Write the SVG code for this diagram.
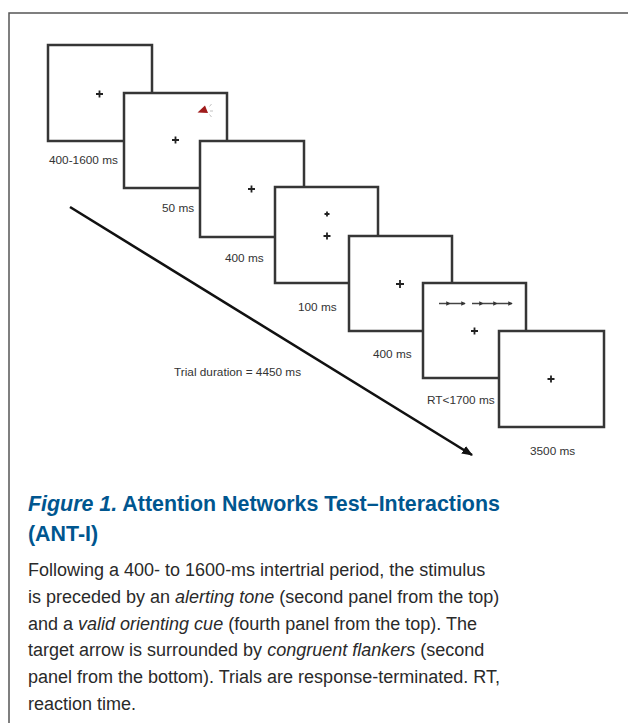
<svg xmlns="http://www.w3.org/2000/svg" width="628" height="723" viewBox="0 0 628 723">
<defs>
<style>
.frame{fill:none;stroke:#555;stroke-width:1.5}
.panel{fill:#fff;stroke:#363636;stroke-width:2.5}
.fix{stroke:#222;stroke-width:1.8;fill:none}
.lbl{font-family:"Liberation Sans",Arial,sans-serif;font-size:11.8px;fill:#333}
.title{font-family:"Liberation Sans",Arial,sans-serif;font-size:21.4px;font-weight:bold;fill:#00568f}
.body{font-family:"Liberation Sans",Arial,sans-serif;font-size:18px;fill:#2a2a2a}
.flk{stroke:#444;stroke-width:1.5;fill:none}
</style>
<marker id="head" viewBox="0 0 10 8" refX="9" refY="4" markerWidth="11" markerHeight="9" markerUnits="userSpaceOnUse" orient="auto">
<path d="M0,0 L10,4 L0,8 z" fill="#111"/>
</marker>
<marker id="fh" viewBox="0 0 6 6" refX="5" refY="3" markerWidth="4.5" markerHeight="4.5" markerUnits="userSpaceOnUse" orient="auto">
<path d="M0,0 L6,3 L0,6 z" fill="#333"/>
</marker>
</defs>
<rect width="628" height="723" fill="#fff"/>
<path class="frame" d="M9,723 L9,13 L628,13"/>

<g id="panel1">
<rect class="panel" x="48" y="45" width="104" height="96"/>
<path class="fix" d="M96,94 h7 M99.5,90.5 v7"/>
<text class="lbl" x="49" y="164">400-1600 ms</text>
</g>
<g id="panel2">
<rect class="panel" x="124" y="93" width="103" height="95"/>
<path class="fix" d="M172,140 h7 M175.5,136.5 v7"/>
<path d="M197.5,112.5 L205,105.5 L208,113 Z" fill="#a01c1c"/>
<path d="M209.5,106.5 l2,-2.5 M210,111 h3 M209.5,114.5 l2,2.5" stroke="#bbb" stroke-width="0.9" fill="none"/>
<text class="lbl" x="162" y="212">50 ms</text>
</g>
<g id="panel3">
<rect class="panel" x="200" y="141" width="104" height="96"/>
<path class="fix" d="M248,189 h7 M251.5,185.5 v7"/>
<text class="lbl" x="225" y="262">400 ms</text>
</g>
<g id="panel4">
<rect class="panel" x="275" y="187" width="103" height="96"/>
<path class="fix" d="M324.5,214 h5 M327,211.5 v5"/>
<path class="fix" d="M323.5,236 h7 M327,232.5 v7"/>
<text class="lbl" x="298" y="311">100 ms</text>
</g>
<g id="panel5">
<rect class="panel" x="349" y="236" width="103" height="95"/>
<path class="fix" d="M396,284 h8 M400,280 v8" stroke-width="2.2"/>
<text class="lbl" x="373" y="358">400 ms</text>
</g>
<g id="panel6">
<rect class="panel" x="423" y="283" width="103" height="95"/>
<g class="flk">
<path d="M439,303.5 H450" marker-end="url(#fh)"/>
<path d="M450,303.5 H465" marker-end="url(#fh)"/>
<path d="M472,303.5 H483" marker-end="url(#fh)"/>
<path d="M483,303.5 H497" marker-end="url(#fh)"/>
<path d="M497,303.5 H512" marker-end="url(#fh)"/>
</g>
<path class="fix" d="M471,331 h7 M474.5,327.5 v7"/>
<text class="lbl" x="427" y="404">RT&lt;1700 ms</text>
</g>
<g id="panel7">
<rect class="panel" x="499" y="331" width="105" height="96"/>
<path class="fix" d="M547.5,379 h7 M551,375.5 v7"/>
<text class="lbl" x="530" y="455">3500 ms</text>
</g>

<g id="connectors">
<line x1="70" y1="207" x2="472" y2="455" stroke="#111" stroke-width="2.6" marker-end="url(#head)"/>
<text class="lbl" x="174" y="376">Trial duration = 4450 ms</text>
</g>

<g id="caption">
<text class="title" x="28" y="511"><tspan font-style="italic">Figure 1.</tspan> Attention Networks Test–Interactions</text>
<text class="title" x="28" y="541">(ANT-I)</text>
<text class="body" x="28" y="576">Following a 400- to 1600-ms intertrial period, the stimulus</text>
<text class="body" x="28" y="603">is preceded by an <tspan font-style="italic">alerting tone</tspan> (second panel from the top)</text>
<text class="body" x="28" y="630">and a <tspan font-style="italic">valid orienting cue</tspan> (fourth panel from the top). The</text>
<text class="body" x="28" y="656">target arrow is surrounded by <tspan font-style="italic">congruent flankers</tspan> (second</text>
<text class="body" x="28" y="683">panel from the bottom). Trials are response-terminated. RT,</text>
<text class="body" x="28" y="710">reaction time.</text>
</g>
</svg>
